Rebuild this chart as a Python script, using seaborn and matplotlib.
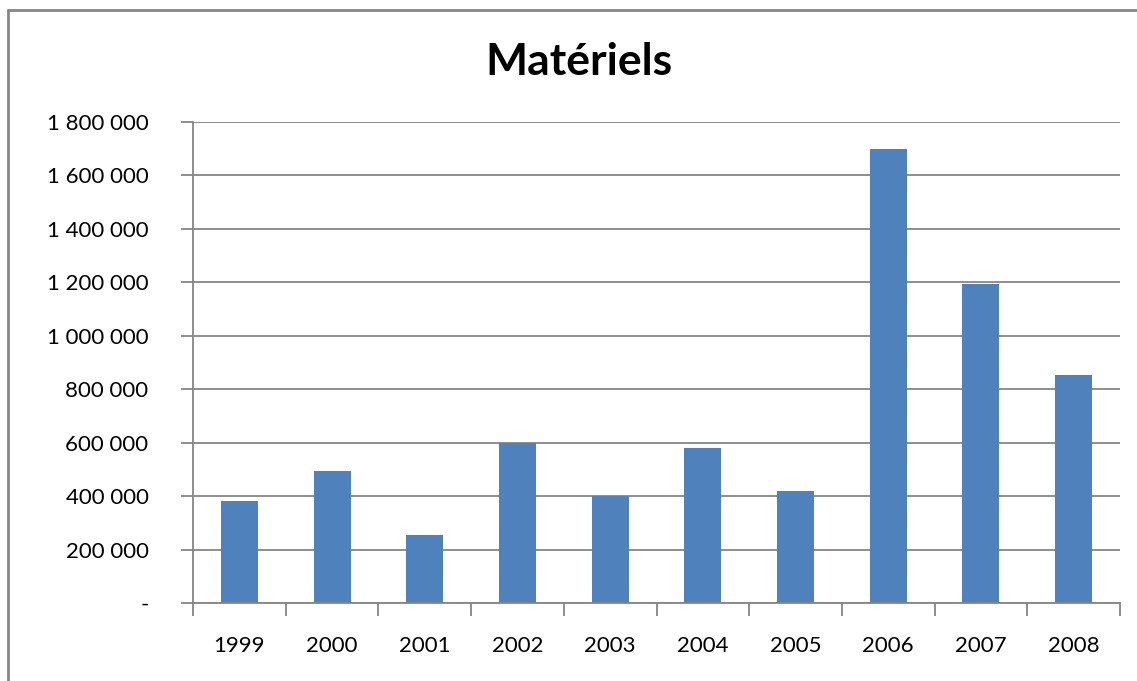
import matplotlib
matplotlib.use("Agg")
import matplotlib.pyplot as plt
import matplotlib.ticker as mticker
from matplotlib.lines import Line2D
import seaborn as sns
import pandas as pd

years = ["1999", "2000", "2001", "2002", "2003", "2004", "2005", "2006", "2007", "2008"]
values = [382000, 494000, 255000, 598000, 400000, 581000, 419000, 1700000, 1195000, 854000]
y_ticks = [0, 200000, 400000, 600000, 800000, 1000000, 1200000, 1400000, 1600000, 1800000]
title = "Matériels"

sns.set_theme(style="white")
plt.rcParams["font.family"] = ["Lato", "DejaVu Sans"]

W, H, DPI = 1137, 681, 100
fig = plt.figure(figsize=(W / DPI, H / DPI), dpi=DPI)
ax = fig.add_axes([193 / W, 1 - 603 / H, (1120 - 193) / W, (603 - 122) / H])

df = pd.DataFrame({"year": years, "value": values})
sns.barplot(data=df, x="year", y="value", color="#4F81BD", saturation=1, width=0.4,
            linewidth=0, edgecolor="none", ax=ax)

grid_c = "#868686"
ax.set_xlim(-0.5, len(years) - 0.5)
ax.set_ylim(0, 1800000)
ax.set_yticks(y_ticks)

def fmt(v, pos):
    if v == 0:
        return "-"
    return f"{int(v):,}".replace(",", " ")

ax.yaxis.set_major_formatter(mticker.FuncFormatter(fmt))
ax.yaxis.grid(True, color=grid_c, linewidth=1.3)
ax.set_axisbelow(True)

ax.set_xticks([i - 0.5 for i in range(len(years) + 1)], minor=True)
ax.tick_params(axis="x", which="minor", bottom=True, length=9, width=1.3, color=grid_c, direction="out")
ax.tick_params(axis="x", which="major", bottom=True, length=0, pad=24, labelsize=16, labelcolor="black")
ax.tick_params(axis="y", which="major", length=9, width=1.3, color=grid_c, direction="out",
               pad=23, labelsize=16, labelcolor="black", left=True)

for s in ["top", "right"]:
    ax.spines[s].set_visible(False)
for s in ["left", "bottom"]:
    ax.spines[s].set_color(grid_c)
    ax.spines[s].set_linewidth(1.3)

ax.set_xlabel("")
ax.set_ylabel("")

fig.text(579 / W, 1 - 62 / H, title, ha="center", va="center", fontsize=32, fontweight="bold",
         color="black")

# chart frame (top and left edges visible)
fig.add_artist(Line2D([8 / W, 8 / W], [0, 1 - 10 / H], transform=fig.transFigure, color=grid_c, linewidth=2))
fig.add_artist(Line2D([8 / W, 1], [1 - 10 / H, 1 - 10 / H], transform=fig.transFigure, color=grid_c, linewidth=2))

fig.savefig("out.png", dpi=DPI, facecolor="white")
